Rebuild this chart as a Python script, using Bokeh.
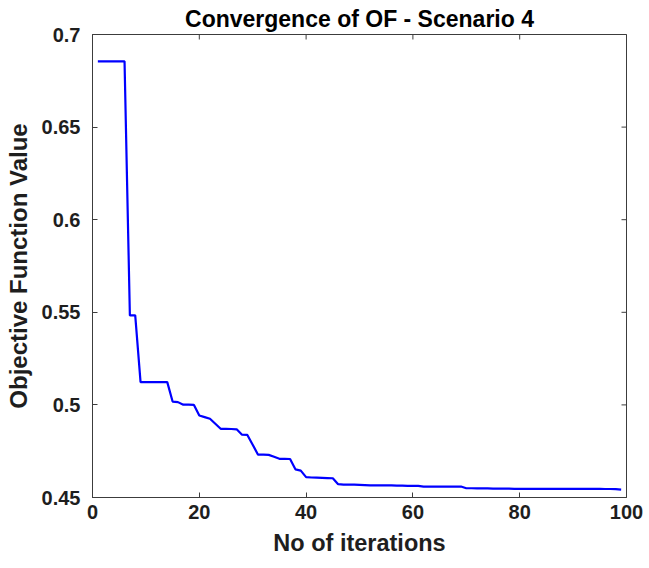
import math

from bokeh.plotting import figure
from bokeh.models import FixedTicker, Range1d
from bokeh.embed import file_html
from bokeh.resources import INLINE

# Best objective function value found at each iteration (Scenario 4)
iterations = list(range(1, 100))
of_values = [
    0.6855, 0.6855, 0.6855, 0.6855, 0.6855, 0.6855,            # 1-6
    0.5483, 0.5483,                                            # 7-8
    0.5123, 0.5123, 0.5123, 0.5123, 0.5123, 0.5123,            # 9-14
    0.5018, 0.5015,                                            # 15-16
    0.5001, 0.5001, 0.5000,                                    # 17-19
    0.4943, 0.4934, 0.4925, 0.4898,                            # 20-23
    0.4871, 0.4871, 0.4870, 0.4868,                            # 24-27
    0.4839, 0.4838, 0.4785,                                    # 28-30
    0.4731, 0.4731, 0.4730, 0.4720,                            # 31-34
    0.4709, 0.4709, 0.4708,                                    # 35-37
    0.4652, 0.4645,                                            # 38-39
    0.4610, 0.4608, 0.4607, 0.4606, 0.4605, 0.4604,            # 40-45
    0.4572, 0.4570, 0.4569, 0.4569, 0.4568, 0.4567, 0.4566,    # 46-52
    0.4566, 0.4565, 0.4565, 0.4565, 0.4564, 0.4564, 0.4563,    # 53-59
    0.4563, 0.4563,                                            # 60-61
    0.4559, 0.4559, 0.4559, 0.4559, 0.4559, 0.4559, 0.4559,    # 62-68
    0.4559,                                                    # 69
    0.4550, 0.4550, 0.4549, 0.4549, 0.4549, 0.4548, 0.4548,    # 70-76
    0.4548, 0.4548, 0.4547, 0.4547,                            # 77-80
    0.4547, 0.4547, 0.4547, 0.4547, 0.4547, 0.4547, 0.4547,    # 81-87
    0.4547, 0.4547, 0.4547, 0.4547, 0.4547, 0.4547, 0.4547,    # 88-94
    0.4547, 0.4546, 0.4546, 0.4545, 0.4543,                    # 95-99
]

x_ticks = [0, 20, 40, 60, 80, 100]
y_ticks = [0.45, 0.5, 0.55, 0.6, 0.65, 0.7]
y_tick_labels = ["0.45", "0.5", "0.55", "0.6", "0.65", "0.7"]

FONT = "Liberation Sans"
AXIS_COLOR = "#3c3c3c"
TEXT_COLOR = "#1e1e1e"

x_range = Range1d(0, 100)
y_range = Range1d(0.45, 0.7)

p = figure(
    width=649, height=568,
    x_range=x_range, y_range=y_range,
    title="Convergence of OF - Scenario 4",
    x_axis_label="No of iterations",
    y_axis_label="Objective Function Value",
    output_backend="svg", toolbar_location=None,
    min_border_left=92, min_border_right=23,
    min_border_top=34, min_border_bottom=71,
)
p.background_fill_color = "white"
p.border_fill_color = "white"
p.outline_line_color = AXIS_COLOR
p.outline_line_width = 1
p.xgrid.visible = False
p.ygrid.visible = False

p.title.align = "center"
p.title.text_font = FONT
p.title.text_font_size = "23px"
p.title.text_font_style = "bold"
p.title.text_color = "black"
p.title.standoff = 6

p.line(iterations, of_values, line_color="#0000ff", line_width=2.2)

for ax, ticks in ((p.xaxis[0], x_ticks), (p.yaxis[0], y_ticks)):
    ax.ticker = FixedTicker(ticks=ticks)
    ax.axis_line_color = AXIS_COLOR
    ax.axis_line_width = 1
    ax.major_tick_line_color = AXIS_COLOR
    ax.major_tick_in = 5
    ax.major_tick_out = 0
    ax.minor_tick_in = 0
    ax.minor_tick_out = 0
    ax.major_label_text_font = FONT
    ax.major_label_text_font_size = "20px"
    ax.major_label_text_font_style = "bold"
    ax.major_label_text_color = TEXT_COLOR
    ax.axis_label_text_font = FONT
    ax.axis_label_text_font_style = "bold"
    ax.axis_label_text_color = TEXT_COLOR

xaxis = p.xaxis[0]
yaxis = p.yaxis[0]
xaxis.axis_label_text_font_size = "23.5px"
yaxis.axis_label_text_font_size = "24px"
xaxis.major_label_standoff = 7
xaxis.axis_label_standoff = 8
yaxis.major_label_standoff = 12
yaxis.axis_label_standoff = 7
yaxis.major_label_overrides = {t: s for t, s in zip(y_ticks, y_tick_labels)}

# Box: inward tick marks mirrored on the top and right edges
# (dash markers centred on the edge; the frame clips the outer half)
p.scatter(x_ticks, [y_range.end] * len(x_ticks), marker="dash",
          angle=math.pi / 2, size=10, line_color=AXIS_COLOR, line_width=1)
p.scatter([x_range.end] * len(y_ticks), y_ticks, marker="dash",
          size=10, line_color=AXIS_COLOR, line_width=1)

open("out.html", "w").write(file_html(p, INLINE))
